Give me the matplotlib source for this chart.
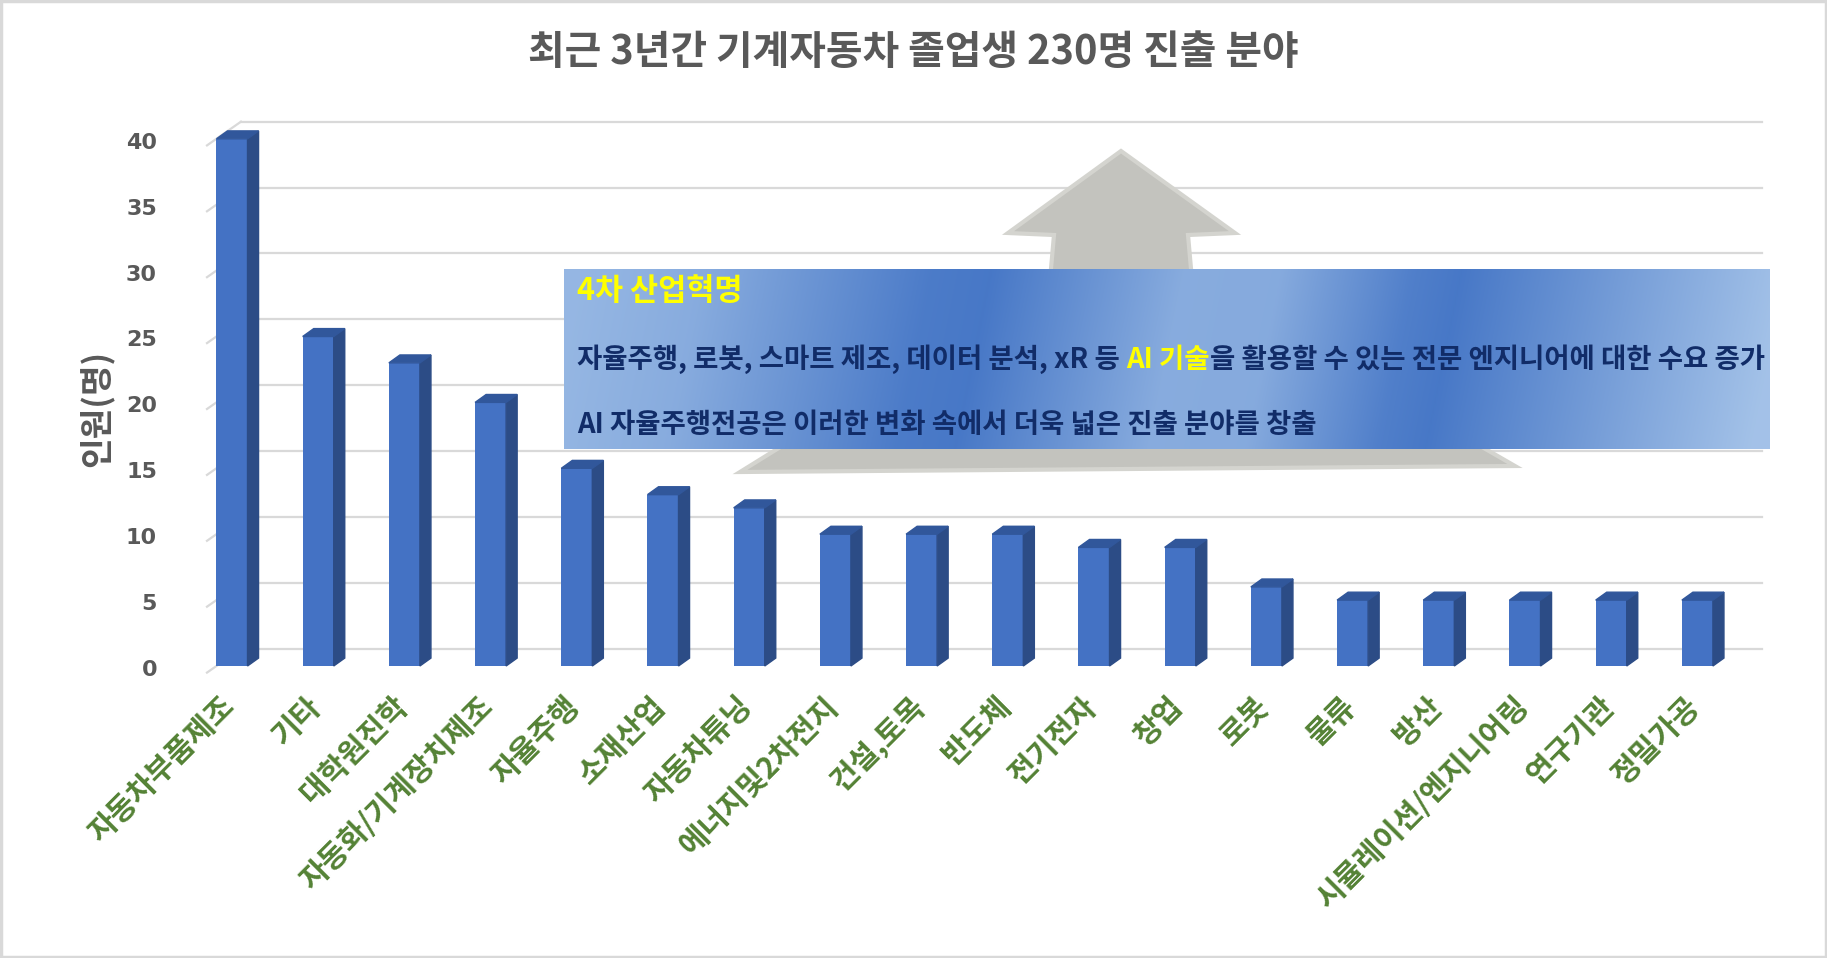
import numpy as np
import matplotlib
matplotlib.use('Agg')
import matplotlib.pyplot as plt
from matplotlib.patches import Polygon, Rectangle

plt.rcParams['font.family'] = ['Noto Sans CJK KR', 'DejaVu Sans']

# 데이터
categories = ['자동차부품제조', '기타', '대학원진학', '자동화/기계장치제조', '자율주행', '소재산업',
              '자동차튜닝', '에너지및2차전지', '건설,토목', '반도체', '전기전자', '창업', '로봇',
              '물류', '방산', '시뮬레이션/엔지니어링', '연구기관', '정밀가공']
counts = [40, 25, 23, 20, 15, 13, 12, 10, 10, 10, 9, 9, 6, 5, 5, 5, 5, 5]
yticks = [0, 5, 10, 15, 20, 25, 30, 35, 40]

title = '최근 3년간 기계자동차 졸업생 230명 진출 분야'
ylabel = '인원(명)'
box_head = '4차 산업혁명'
box_line2 = ['자율주행, 로봇, 스마트 제조, 데이터 분석, xR 등 ', 'AI 기술',
             '을 활용할 수 있는 전문 엔지니어에 대한 수요 증가']
box_line3 = 'AI 자율주행전공은 이러한 변화 속에서 더욱 넓은 진출 분야를 창출'

W, H = 1827, 958
fig = plt.figure(figsize=(W / 100, H / 100), dpi=100)

# 차트 영역 (픽셀 기준)
ux, uy = 86.2, 13.18
x0px, y0px = 232, 666
ax = fig.add_axes([(x0px - 0.5 * ux) / W, (H - y0px) / H,
                   len(counts) * ux / W, 40 * uy / H])
ax.set_xlim(-0.5, len(counts) - 0.5)
ax.set_ylim(0, 40)
ax.axis('off')

grid_c = '#d9d9d9'
back = 1.3
for v in yticks:
    ax.plot([0.104, 17.75], [v + back, v + back], color=grid_c, lw=1.6, clip_on=False, zorder=1)
    ax.plot([-0.29, 0.104], [v - 0.5, v + back], color=grid_c, lw=1.6, clip_on=False, zorder=1)
    ax.text(-0.87, v - 0.3, str(v), ha='right', va='center', fontsize=16,
            fontweight='bold', color='#595959', family='DejaVu Sans')

# 3D 막대
xs = np.arange(len(counts))
bw, dx, dy = 0.36, 0.128, 0.6
ax.bar(xs, counts, width=bw, color='#4472c4', zorder=3)
for x, v in zip(xs, counts):
    r = x + bw / 2
    l = x - bw / 2
    ax.add_patch(Polygon([(r, 0), (r + dx, dy), (r + dx, v + dy), (r, v)],
                         closed=True, color='#2c4c86', zorder=3, clip_on=False))
    ax.add_patch(Polygon([(l, v), (l + dx, v + dy), (r + dx, v + dy), (r, v)],
                         closed=True, color='#31579b', zorder=3, clip_on=False))

for x, c in zip(xs, categories):
    ax.text(x - 0.02, -2.7, c, rotation=45, rotation_mode='anchor', ha='right', va='center',
            fontsize=21.5, fontweight='bold', color='#548235')

fig.text(0.5, 1 - 52 / H, title, ha='center', va='center', fontsize=28.7,
         fontweight='bold', color='#595959')
fig.text(96 / W, 1 - 408 / H, ylabel, ha='center', va='center', rotation=90,
         fontsize=24, fontweight='bold', color='#595959')

# 장식 레이어 (화살표, 설명 상자)
ov = fig.add_axes([0, 0, 1, 1], zorder=5)
ov.set_xlim(0, W)
ov.set_ylim(H, 0)
ov.axis('off')

arrow = [(1121, 151), (1235, 233), (1188, 235), (1192, 280), (1515, 466),
         (740, 472), (1050, 280), (1054, 235), (1008, 233)]
ov.add_patch(Polygon(arrow, closed=True, facecolor='#c3c3be', edgecolor='#d4d4cf', lw=3, zorder=1))

bx0, bx1, by0, by1 = 564, 1770, 270, 449
gx = np.linspace(0, 1, 600)
gy = np.linspace(0, 1, 120)
GX, GY = np.meshgrid(gx, gy)
pos = GX + 0.03 * (GY - 0.5)
dark = np.interp(pos, [0, 0.1, 0.29, 0.34, 0.5, 0.58, 0.69, 0.73, 1.0],
                 [0.15, 0.3, 0.95, 1.0, 0.3, 0.32, 0.9, 1.0, 0.0])
light = np.array([0.64, 0.76, 0.91])
deep = np.array([0.28, 0.47, 0.78])
img = light + dark[..., None] * (deep - light)
ov.imshow(img, extent=[bx0, bx1, by1, by0], aspect='auto', zorder=2, interpolation='bilinear')
ov.set_xlim(0, W)
ov.set_ylim(H, 0)

navy = '#112c68'
fs = 19.8
ov.text(577, 291, box_head, color='#ffff00', fontsize=22, fontweight='bold', va='center', zorder=3)
t = ov.text(577, 359, box_line2[0], color=navy, fontsize=fs, fontweight='bold', va='center', zorder=3)
t = ov.annotate(box_line2[1], xy=(1, 0), xycoords=t, va='bottom', ha='left',
                color='#ffff00', fontsize=fs, fontweight='bold', zorder=3)
ov.annotate(box_line2[2], xy=(1, 0), xycoords=t, va='bottom', ha='left',
            color=navy, fontsize=fs, fontweight='bold', zorder=3)
ov.text(577, 425, box_line3, color=navy, fontsize=fs, fontweight='bold', va='center', zorder=3)

ov.add_patch(Rectangle((1, 1), W - 2, H - 2, fill=False, edgecolor='#d9d9d9', lw=2.5, zorder=4))

fig.savefig('out.png', dpi=100)
